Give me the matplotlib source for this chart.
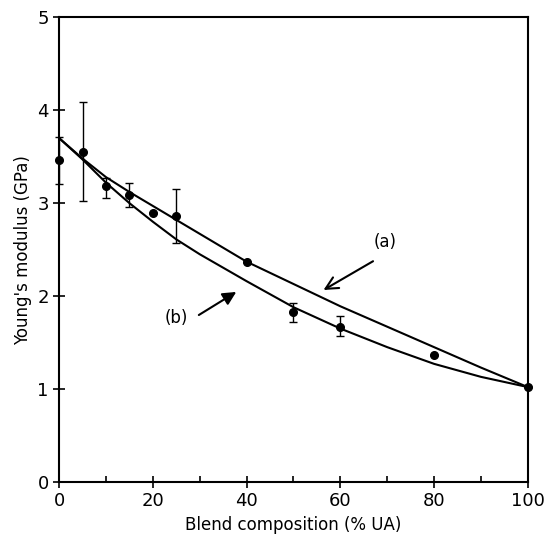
import numpy as np
import matplotlib.pyplot as plt
from matplotlib.ticker import MultipleLocator

# measured points
comp = [0, 5, 10, 15, 20, 25, 40, 50, 60, 80, 100]
modulus = [3.46, 3.55, 3.18, 3.09, 2.89, 2.86, 2.37, 1.83, 1.67, 1.37, 1.02]
err_lo = [0.25, 0.53, 0.12, 0.13, 0.0, 0.29, 0.0, 0.11, 0.10, 0.0, 0.0]
err_hi = [0.25, 0.54, 0.09, 0.13, 0.0, 0.29, 0.0, 0.09, 0.11, 0.0, 0.0]

# model curves (a) and (b)
curve_x = [0, 5, 10, 15, 20, 25, 30, 40, 50, 60, 70, 80, 90, 100]
curve_a = [3.70, 3.48, 3.28, 3.12, 2.97, 2.82, 2.67, 2.37, 2.13, 1.89, 1.67, 1.45, 1.23, 1.02]
curve_b = [3.70, 3.47, 3.22, 3.00, 2.80, 2.61, 2.45, 2.16, 1.88, 1.65, 1.45, 1.27, 1.13, 1.02]

fig = plt.figure(figsize=(5.48, 5.45), dpi=100)
ax = fig.add_axes([0.108, 0.116, 0.855, 0.852])

ax.plot(curve_x, curve_a, color='black', lw=1.5)
ax.plot(curve_x, curve_b, color='black', lw=1.5)

ax.errorbar(comp, modulus, yerr=[err_lo, err_hi], fmt='o', color='black',
            ms=5.5, elinewidth=1.0, capsize=3, capthick=1.0, clip_on=False)

ax.set_xlim(0, 100)
ax.set_ylim(0, 5)
ax.xaxis.set_major_locator(MultipleLocator(20))
ax.xaxis.set_minor_locator(MultipleLocator(10))
ax.yaxis.set_major_locator(MultipleLocator(1))
ax.tick_params(which='major', direction='inout', length=8, width=1.2,
               labelsize=13, top=False, right=False)
ax.tick_params(which='minor', direction='in', length=4, width=1.2,
               top=False, right=False)
ax.tick_params(axis='y', which='minor', left=False)
for s in ax.spines.values():
    s.set_linewidth(1.5)

ax.set_xlabel('Blend composition (% UA)', fontsize=12, labelpad=4)
ax.set_ylabel("Young's modulus (GPa)", fontsize=12, labelpad=4)

ax.text(69.5, 2.58, '(a)', fontsize=12, ha='center', va='center')
ax.annotate('', xy=(55.9, 2.05), xytext=(67.5, 2.39),
            arrowprops=dict(arrowstyle='->', color='black', lw=1.5,
                            mutation_scale=22))
ax.text(25.0, 1.76, '(b)', fontsize=12, ha='center', va='center')
ax.annotate('', xy=(38.3, 2.06), xytext=(29.3, 1.78),
            arrowprops=dict(arrowstyle='-|>', color='black', lw=1.5,
                            mutation_scale=20))

fig.savefig('out.png', dpi=100)
